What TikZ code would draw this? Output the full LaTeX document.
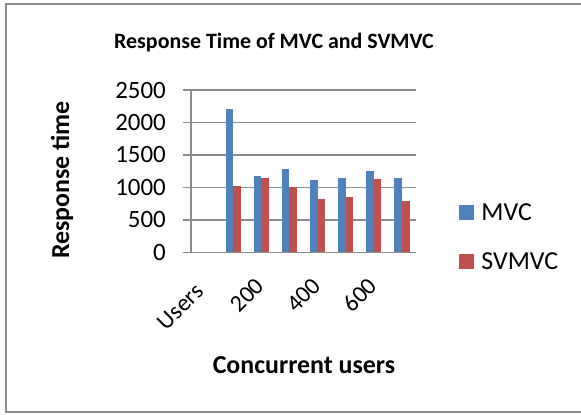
\documentclass[tikz,border=0pt]{standalone}
\usepackage{fontspec}
\setmainfont{Carlito}
\usetikzlibrary{positioning}
\definecolor{mvcblue}{HTML}{4F81BD}
\definecolor{svmvcred}{HTML}{C0504D}
\definecolor{gridgray}{HTML}{8C8C8C}
\begin{document}
\begin{tikzpicture}[x=1bp,y=-1bp,
frame/.style={
% The outer border of the chart
draw=gridgray, line width=2bp
},
gridline/.style={
% The horizontal lines behind the bars
draw=gridgray, line width=1.5bp
},
ticklabel/.style={
anchor=east, inner sep=0pt,
font=\fontsize{25}{28}\selectfont
},
catlabel/.style={
anchor=east, rotate=45, inner sep=0pt,
font=\fontsize{24}{28}\selectfont
},
axistitle/.style={
inner sep=0pt,
font=\fontsize{26}{30}\selectfont\bfseries
},
legendkey/.style={
rectangle, minimum size=15bp, inner sep=0pt
},
legendtext/.style={
inner sep=0pt,
font=\fontsize{26}{30}\selectfont
}]
\useasboundingbox (0,0) rectangle (581,414);

% chart border, open at the right
\draw[frame] (581,4) -- (6,4) -- (6,412) -- (581,412);

\node (title) [axistitle, font=\fontsize{22}{26}\selectfont\bfseries] at (274,43) {Response Time of MVC and SVMVC};

% plot area: value 0 at y=252.3, 2500 at y=90
\begin{scope}[shift={(0,252.3)}, y=0.06492bp]
\foreach \v in {0,500,...,2500} {
  \draw[gridline] (183,\v) -- (416,\v);
  \node (tick\v) [ticklabel] at (166,\v) {\v};
}
\draw[gridline] (191,0) -- (191,2500);

% bars: category / MVC / SVMVC
\foreach \i/\m/\s in {1/2200/1020, 2/1180/1140, 3/1280/1010, 4/1120/820,
                      5/1150/850, 6/1250/1135, 7/1140/785} {
  \pgfmathsetmacro{\cx}{191+28.125*(\i+0.5)}
  \fill[mvcblue] (\cx-7.6,0) rectangle (\cx,\m);
  \fill[svmvcred] (\cx,0) rectangle (\cx+7.6,\s);
}
\end{scope}

% category labels, every second one
\node (cat0) [catlabel] at (199.5,287.5) {Users};
\node (cat2) [catlabel] at (260,282) {200};
\node (cat4) [catlabel] at (316.5,282) {400};
\node (cat6) [catlabel] at (373,282) {600};

\node (xtitle) [axistitle] at (304,365) {Concurrent users};
\node (ytitle) [axistitle, rotate=90] at (62,180) {Response time};

% legend
\node (mvckey) [legendkey, fill=mvcblue] at (466.5,212.5) {};
\node (mvctext) [legendtext, right=7bp of mvckey] {MVC};
\node (svmvckey) [legendkey, fill=svmvcred] at (466.5,261.5) {};
\node (svmvctext) [legendtext, right=7bp of svmvckey] {SVMVC};
\end{tikzpicture}
\end{document}
